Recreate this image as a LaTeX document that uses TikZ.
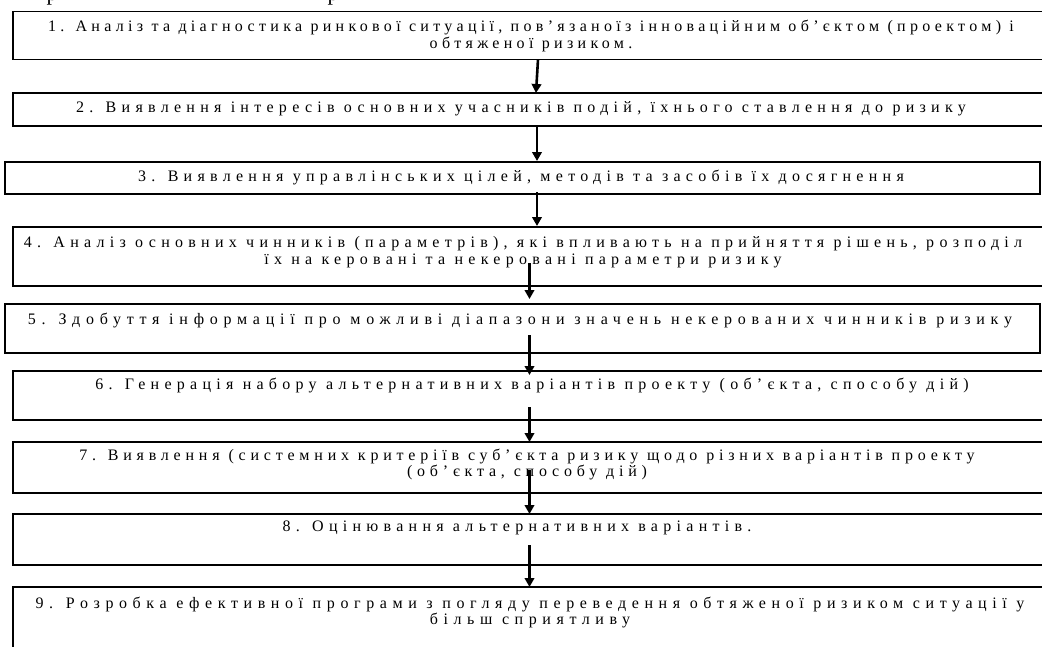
\documentclass[tikz,border=0pt]{standalone}
\usepackage{fontspec}
\setmainfont{Liberation Serif}
\newfontfamily\boxfont[LetterSpace=33]{Liberation Serif}
\newfontfamily\boxfontb[LetterSpace=27]{Liberation Serif}
\newfontfamily\boxfontw[LetterSpace=36]{Liberation Serif}
\newfontfamily\boxfontv[LetterSpace=35]{Liberation Serif}
\newfontfamily\boxfontn[LetterSpace=30]{Liberation Serif}
\usetikzlibrary{arrows.meta,calc}
\tikzset{
  stepbox/.style={draw=black, line width=1.8pt, rectangle, inner sep=0pt, outer sep=0pt},
  boxtext/.style={anchor=north, inner sep=0pt, align=center, font=\boxfont\fontsize{16}{17}\selectfont},
  arr/.style={line width=2.6pt, -{Triangle[length=9pt,width=9.5pt]}},
}
\begin{document}
\begin{tikzpicture}[x=1pt,y=-1pt]
\useasboundingbox (0,0) rectangle (1042,646);
% clipped heading fragments
\node[anchor=base, inner sep=0pt, font=\fontsize{22}{22}\selectfont] (h1) at (52,0.5) {р};
\node[anchor=base, inner sep=0pt, font=\fontsize{22}{22}\selectfont] (h2) at (333,0.5) {р};
% boxes
\node[stepbox, minimum width=1042pt, minimum height=48pt] (b1) at (534,35.5) {};
\node[stepbox, minimum width=1042pt, minimum height=33pt] (b2) at (534,109.5) {};
\node[stepbox, minimum width=1035pt, minimum height=32pt] (b3) at (522.5,178) {};
\node[stepbox, minimum width=1042pt, minimum height=59pt] (b4) at (534,256.5) {};
\node[stepbox, minimum width=1035pt, minimum height=49pt] (b5) at (522.5,328.5) {};
\node[stepbox, minimum width=1042pt, minimum height=49pt] (b6) at (534,395.5) {};
\node[stepbox, minimum width=1042pt, minimum height=51pt] (b7) at (534,467.5) {};
\node[stepbox, minimum width=1042pt, minimum height=51pt] (b8) at (534,539.5) {};
\node[stepbox, minimum width=1042pt, minimum height=113pt] (b9) at (534,643.5) {};
% texts
\node[boxtext, font=\boxfontb\fontsize{16}{17}\selectfont] (t1) at (531,20) {1. Аналіз та діагностика ринкової ситуації, пов’язаноїз інноваційним об’єктом (проектом) і\\обтяженої ризиком.};
\node[boxtext] (t2) at (521,101) {2. Виявлення інтересів основних учасників подій, їхнього ставлення до ризику};
\node[boxtext] (t3) at (521,170) {3. Виявлення управлінських цілей, методів та засобів їх досягнення};
\node[boxtext] (t4) at (523,236.5) {4. Аналіз основних чинників (параметрів), які впливають на прийняття рішень, розподіл\\їх на керовані та некеровані параметри ризику};
\node[boxtext, font=\boxfontw\fontsize{16}{17}\selectfont] (t5) at (520,313) {5. Здобуття інформації про можливі діапазони значень некерованих чинників ризику};
\node[boxtext] (t6) at (532,378) {6. Генерація набору альтернативних варіантів проекту (об’єкта, способу дій)};
\node[boxtext, font=\boxfontn\fontsize{16}{16.5}\selectfont] (t7) at (527,448.5) {7. Виявлення (системних критеріїв суб’єкта ризику щодо різних варіантів проекту\\(об’єкта, способу дій)};
\node[boxtext] (t8) at (517,521) {8. Оцінювання альтернативних варіантів.};
\node[boxtext, font=\boxfontv\fontsize{16}{16.5}\selectfont] (t9) at (530,596.5) {9. Розробка ефективної програми з погляду переведення обтяженої ризиком ситуації у\\більш сприятливу};
% arrows
\coordinate (ca) at (537,0);
\coordinate (cb) at (529.5,0);
\draw[arr] ($(b1.south -| ca)+(1,0)$) -- ($(b2.north -| ca)+(-1,0)$);
\draw[arr] ($(b2.south -| ca)+(0,-1)$) -- ($(b3.north -| ca)+(0,-1)$);
\draw[arr] ($(b3.south -| ca)+(0,-2)$) -- ($(b4.north -| ca)+(0,-1)$);
\draw[arr] ($(b4.south -| cb)+(0,-23)$) -- ($(b5.north -| cb)+(0,-5)$);
\draw[arr] ($(b5.south -| cb)+(0,-18)$) -- ($(b6.north -| cb)+(0,4)$);
\draw[arr] ($(b6.south -| cb)+(0,-13)$) -- (b7.north -| cb);
\draw[arr] ($(b7.south -| cb)+(0,-23)$) -- (b8.north -| cb);
\draw[arr] ($(b8.south -| cb)+(0,-20)$) -- (b9.north -| cb);
\end{tikzpicture}
\end{document}
